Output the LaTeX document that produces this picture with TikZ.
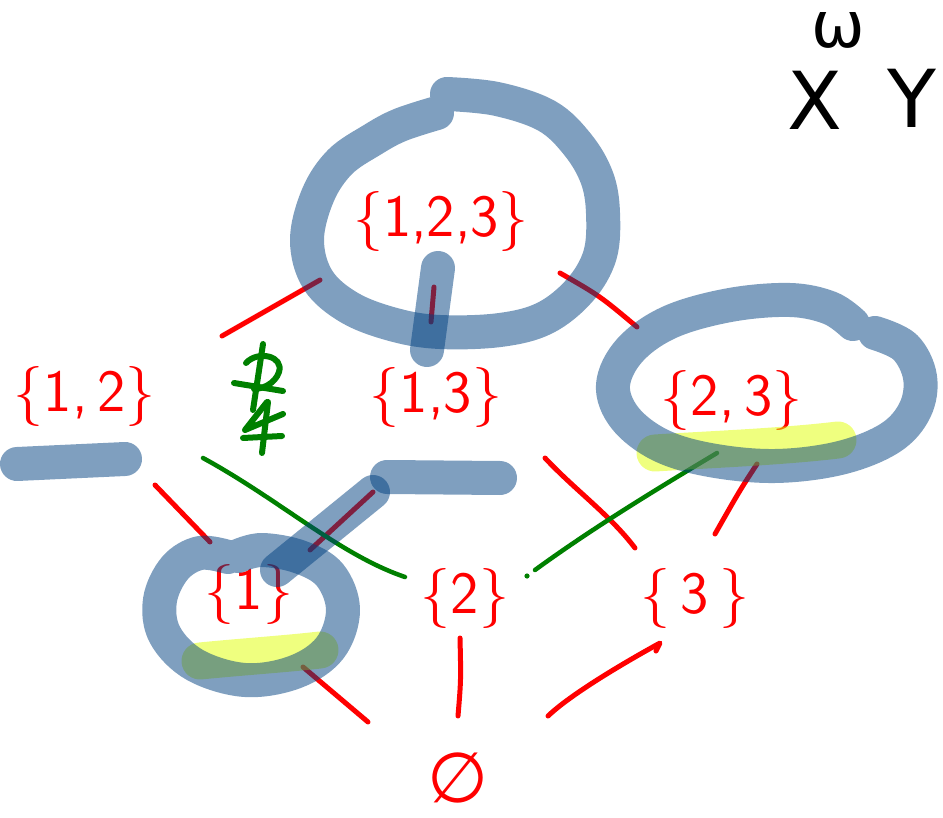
\documentclass[tikz,border=0pt]{standalone}
\usepackage{fontspec}
\newfontfamily\symfont{DejaVu Sans}
\definecolor{ink}{RGB}{255,0,0}
\definecolor{marker}{RGB}{0,64,128}
\definecolor{hilite}{RGB}{224,255,0}
\definecolor{pen}{RGB}{0,128,0}

\begin{document}
\begin{tikzpicture}[x=1pt,y=-1pt,
  set/.style={text=ink, font=\sffamily\fontsize{60}{60}\selectfont, inner sep=0pt},
  edge/.style={draw=ink, line width=5pt, line cap=round, line join=round},
  cross/.style={draw=pen, line width=4.5pt, line cap=round, line join=round},
  sign/.style={draw=pen, line width=6pt, line cap=round, line join=round},
  blob/.style={draw=marker, draw opacity=0.5, line width=34pt, line cap=round, line join=round},
  glow/.style={draw=hilite, draw opacity=0.5, line width=37pt, line cap=round, line join=round},
  var/.style={text=black, inner sep=0pt, font=\symfont\fontsize{80}{80}\selectfont}]
\useasboundingbox (0,0) rectangle (943,818);

% the lattice of subsets
\node[set] (s123) at (441,222) {\{1,2,3\}};
\node[set] (s12)  at (85,396)  {\{1,\,2\}};
\node[set] (s13)  at (436,398) {\{1,3\}};
\node[set] (s23)  at (732,400) {\{2,\,3\}};
\node[set] (s1)   at (249,594) {\{1\}};
\node[set] (s2)   at (465,598) {\{2\}};
\node[set] (s3)   at (695,598) {\{\,3\,\}};
\node[text=ink, inner sep=0pt, font=\symfont\fontsize{70}{70}\selectfont] (s0) at (458,778) {∅};

% variable names in the corner
\node[var, font=\symfont\fontsize{64}{64}\selectfont] (om) at (838,30) {ω};
\node[var] (vx) at (815,100) {X};
\node[var] (vy) at (912,98) {Y};

% end points of the covering relations
\coordinate (a1) at (320,280); \coordinate (b1) at (222,336);
\coordinate (a2) at (434,287); \coordinate (b2) at (431,322);
\coordinate (a3) at (560,273); \coordinate (b3) at (637,327);
\coordinate (a4) at (155,485); \coordinate (b4) at (210,542);
\coordinate (a5) at (373,492); \coordinate (b5) at (310,550);
\coordinate (a6) at (545,458); \coordinate (b6) at (635,548);
\coordinate (a7) at (757,464); \coordinate (b7) at (715,534);
\coordinate (a8) at (303,667); \coordinate (b8) at (368,722);
\coordinate (a9) at (460,638); \coordinate (b9) at (458,716);
\coordinate (a10) at (548,716); \coordinate (b10) at (660,643);

\draw[edge] (a1) -- (b1);
\draw[edge] (a2) -- (b2);
\draw[edge] (a3) .. controls (600,296) .. (b3);
\draw[edge] (a4) -- (b4);
\draw[edge] (a5) -- (b5);
\draw[edge] (a6) .. controls (575,490) and (610,515) .. (b6);
\draw[edge] (a7) .. controls (740,490) .. (b7);
\draw[edge] (a8) -- (b8);
\draw[edge] (a9) .. controls (461,680) .. (b9);
\draw[edge] (a10) .. controls (570,695) and (620,665) .. (b10) -- (656,651);

% green strokes: crossed pairs and the inequality sign
\coordinate (g1) at (203,458); \coordinate (h1) at (405,577);
\coordinate (g2) at (717,453); \coordinate (h2) at (535,570);
\draw[cross] (g1) .. controls (280,500) and (340,555) .. (h1);
\draw[cross] (g2) .. controls (650,493) and (590,530) .. (h2);
\fill[pen] (527,576) circle (2.6pt);

\draw[sign] (263,344) -- (253,410);
\draw[sign] (246,363) .. controls (258,350) and (284,356) .. (279,372)
            .. controls (275,384) and (262,389) .. (254,389);
\draw[sign] (234,383) -- (283,391);
\draw[sign] (267,402) -- (245,430) -- (283,414);
\draw[sign] (243,438) -- (282,436);
\draw[sign] (268,402) -- (262,453);

% yellow highlighter
\draw[glow] (655,453) .. controls (700,450) and (780,447) .. (838,440);
\draw[glow] (200,661) .. controls (240,657) and (285,654) .. (320,650);

% blue marker
\draw[blob] plot[smooth, tension=0.6] coordinates {
  (437,113) (400,125) (372,140) (340,162) (318,195) (307,240) (318,280)
  (350,308) (395,325) (440,332) (500,330) (545,318) (580,290) (600,255)
  (603,213) (597,178) (578,145) (547,116) (497,99) (447,94)};
\draw[blob] (438,268) -- (427,350);
\draw[blob] plot[smooth, tension=0.6] coordinates {
  (875,333) (905,347) (920,377) (915,410) (890,438) (840,458) (775,466)
  (710,460) (660,445) (625,418) (613,385) (630,350) (670,322) (730,305)
  (790,300) (830,308) (853,324)};
\draw[blob] (17,464) -- (125,459);
\draw[blob] (387,477) -- (500,478);
\draw[blob] (373,492) -- (277,570);
\draw[blob] plot[smooth, tension=0.6] coordinates {
  (228,557) (200,553) (175,568) (160,600) (165,635) (195,665) (245,680)
  (295,672) (330,648) (343,610) (330,575) (300,557) (262,550) (238,556)};
\end{tikzpicture}
\end{document}
